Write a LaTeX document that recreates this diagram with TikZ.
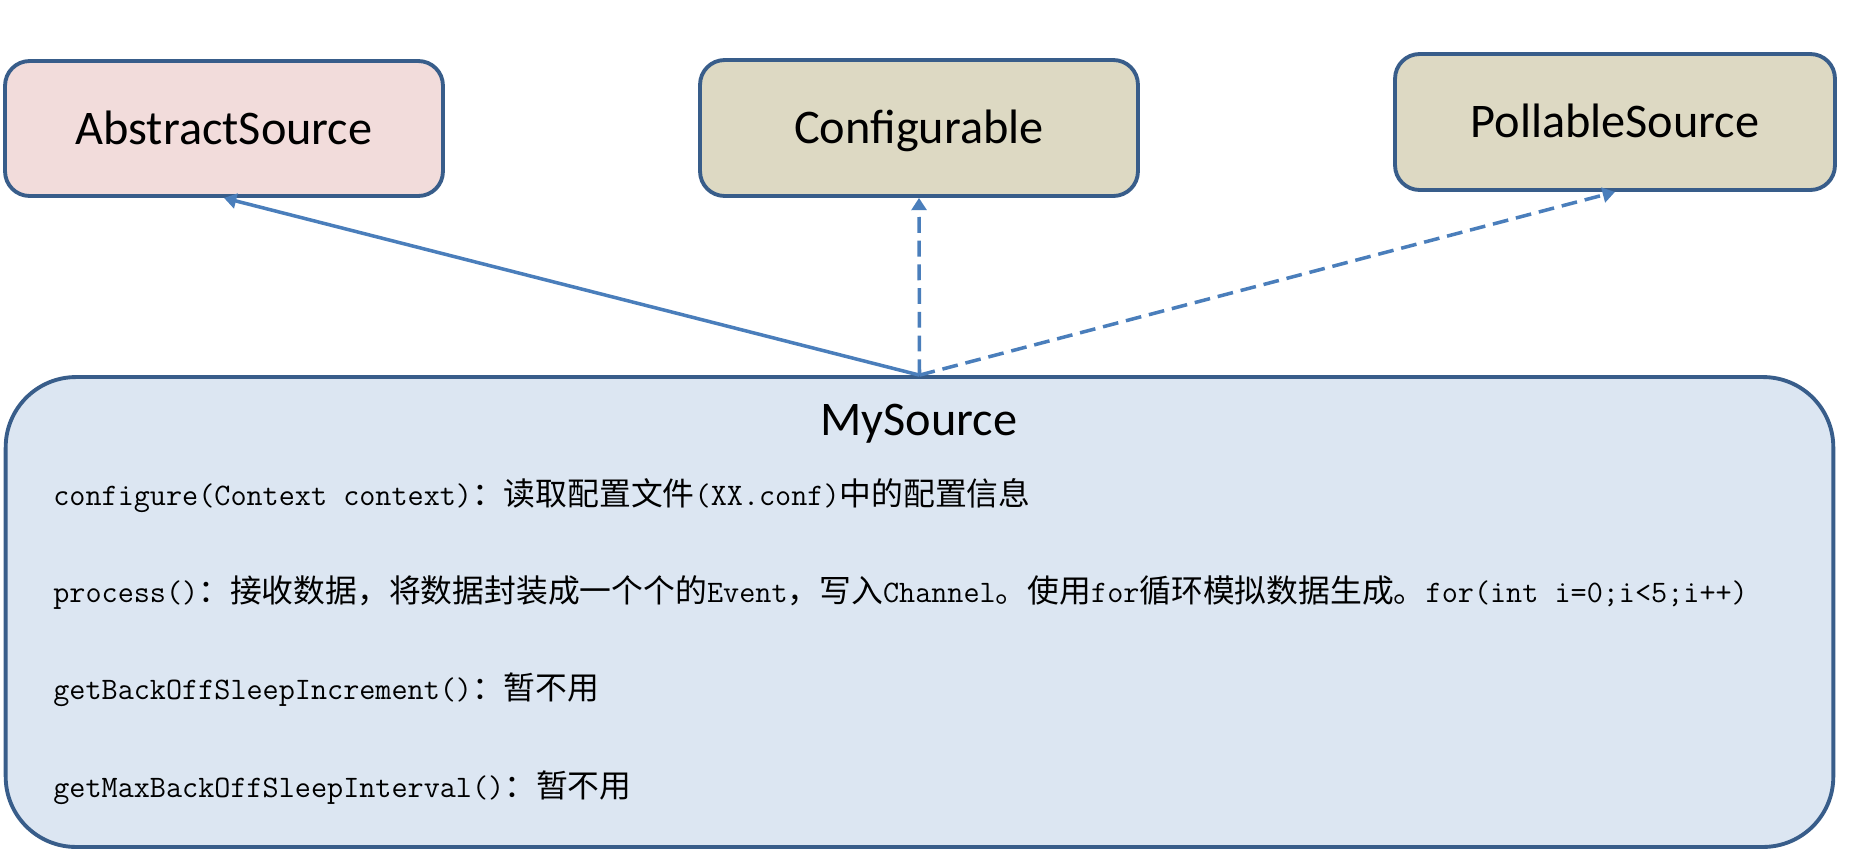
\documentclass[tikz,border=0pt]{standalone}
\usepackage{fontspec}
\usetikzlibrary{arrows.meta}
\newfontfamily\titlefont{Carlito}
\newfontfamily\cjk{Noto Sans CJK SC}
\newcommand\zh[1]{{\fontsize{18.1pt}{20pt}\cjk #1}}
\definecolor{boxline}{HTML}{385D8A}
\definecolor{arrowblue}{HTML}{4A7EBB}
\definecolor{pinkfill}{HTML}{F2DCDB}
\definecolor{tanfill}{HTML}{DDD9C3}
\definecolor{bluefill}{HTML}{DCE6F2}
\tikzset{
  classbox/.style={draw=boxline, line width=2.2pt, rounded corners=14pt, inner sep=0pt, text height=17.7pt, text depth=0pt, font=\titlefont\fontsize{27.5pt}{30pt}\selectfont},
  member/.style={anchor=west, inner sep=0pt, font=\fontsize{17.8pt}{20pt}\ttfamily},
  inherit/.style={draw=arrowblue, line width=2pt, -{Triangle[length=7pt,width=8.5pt]}},
  realize/.style={inherit, dash pattern=on 9pt off 4.5pt}
}
\begin{document}
\begin{tikzpicture}[x=0.02cm, y=-0.02cm, line join=round]
	\useasboundingbox (0,0) rectangle (1857,850);
	% parent classes and interfaces
	\node[classbox, fill=pinkfill, minimum width=8.76cm, minimum height=2.7cm] (abs) at (224,128.5) {AbstractSource};
	\node[classbox, fill=tanfill, minimum width=8.76cm, minimum height=2.72cm] (conf) at (919,128) {Configurable};
	\node[classbox, fill=tanfill, minimum width=8.8cm, minimum height=2.72cm] (poll) at (1615,122) {PollableSource};
	% the implementing class
	\node[classbox, fill=bluefill, rounded corners=40pt, minimum width=36.56cm, minimum height=9.4cm] (my) at (919.5,612) {};
	\node[font=\titlefont\fontsize{27.5pt}{30pt}\selectfont, inner sep=0pt, text height=17.7pt, text depth=0pt] (mytitle) at (919,420) {MySource};
	\node[member] (m1) at (53,496) {configure(Context context)\zh{：读取配置文件}(XX.conf)\zh{中的配置信息}};
	\node[member] (m2) at (53,593) {process()\zh{：接收数据，将数据封装成一个个的}Event\zh{，写入}Channel\zh{。使用}for\zh{循环模拟数据生成。}for(int i=0;i<5;i++)};
	\node[member] (m3) at (53,690) {getBackOffSleepIncrement()\zh{：暂不用}};
	\node[member] (m4) at (53,788) {getMaxBackOffSleepInterval()\zh{：暂不用}};
	% connectors
	\draw[inherit] (my.north) -- (abs.south);
	\draw[realize] (my.north) -- (conf.south);
	\draw[realize] (my.north) -- (poll.south);
\end{tikzpicture}
\end{document}
